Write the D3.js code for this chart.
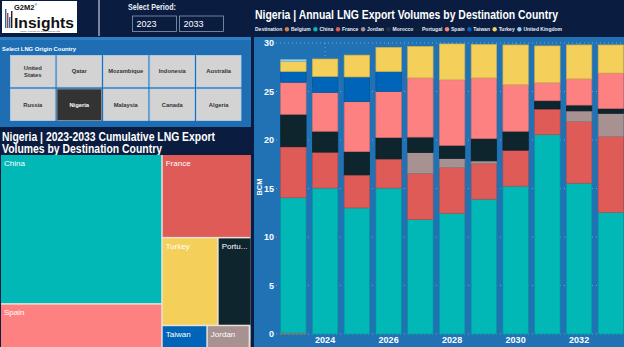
<!DOCTYPE html>
<html><head><meta charset="utf-8">
<script src="https://cdn.jsdelivr.net/npm/d3@7"></script>
<style>body{margin:0;background:#0b1d40;overflow:hidden}svg{display:block}</style>
</head><body><svg id="c" width="624" height="347"></svg>
<script>
// ---------- DATA ----------
const years = [2023,2024,2025,2026,2027,2028,2029,2030,2031,2032,2033];
const destinations = ["Belgium","China","France","Jordan","Morocco","Portugal","Spain","Taiwan","Turkey","United Kingdom"];
const belgium  = [0.1,0,0,0,0,0,0,0,0,0,0];
const china    = [13.95,15.05,13.0,15.05,11.8,12.45,13.9,15.25,20.55,15.55,12.55];
const france   = [5.25,3.7,3.4,3.0,4.75,4.7,3.65,3.7,2.65,6.35,7.8];
const jordan   = [0,0,0,0,2.15,0.95,0.3,0,0,1.1,2.4];
const morocco  = [0,0,0,0,0,0,0,0,0,0,0];
const portugal = [3.35,2.15,2.4,2.2,1.6,1.35,2.3,1.95,0.85,0.6,0.5];
const spain    = [3.3,4.0,5.15,4.75,6.1,6.75,6.25,4.8,1.85,2.7,3.65];
const taiwan   = [1.1,1.65,2.55,2.05,0,0,0,0,0,0,0];
const turkey   = [1.05,1.8,2.25,2.5,3.25,3.7,3.45,4.1,3.8,3.5,2.9];
const uk       = [0.2,0,0,0,0,0,0,0,0,0,0];
const yTicks = [0,5,10,15,20,25,30];
const xTickYears = [2024,2026,2028,2030,2032];
const originRow1 = ["United States","Qatar","Mozambique","Indonesia","Australia"];
const originRow2 = ["Russia","Nigeria","Malaysia","Canada","Algeria"];
const selectedOrigin = "Nigeria";
const periodStart = "2023", periodEnd = "2033";

const seriesValues = [belgium,china,france,jordan,morocco,portugal,spain,taiwan,turkey,uk];
const colors = {"Belgium":"#d9804f","China":"#01b8b6","France":"#de5b57","Jordan":"#a89191","Morocco":"#2a2f3a",
  "Portugal":"#0e252d","Spain":"#fe8181","Taiwan":"#0064b8","Turkey":"#f4d05b","United Kingdom":"#8fd2ea"};

const NAVY="#0a1d41", BLUE="#2171b5", FONT="'Liberation Sans', Arial, sans-serif";
const svg = d3.select("#c").style("font-family",FONT);

// ---------- BACKGROUND PANELS ----------
svg.append("rect").attr("width",624).attr("height",347).attr("fill",NAVY);
svg.append("rect").attr("x",0).attr("y",37).attr("width",251).attr("height",90).attr("fill","#1f6db2");
svg.append("rect").attr("x",0).attr("y",37).attr("width",251).attr("height",3).attr("fill","#2c80c4");
svg.append("rect").attr("x",254).attr("y",37).attr("width",370).attr("height",310).attr("fill",BLUE);
svg.append("line").attr("x1",99).attr("x2",99).attr("y1",0).attr("y2",36).attr("stroke","#e8eef5").attr("stroke-width",1);

// ---------- LOGO ----------
const logo = svg.append("g");
logo.append("rect").attr("x",2).attr("y",1).attr("width",75).attr("height",32).attr("fill","#fff");
[[5,19,"#1f6db2"],[7,15,"#c0392b"],[9,11,"#1f6db2"],[11,17,"#222"]].forEach(([x,h,c])=>{
  logo.append("rect").attr("x",x).attr("y",28-h).attr("width",1.4).attr("height",h).attr("fill",c);});
logo.append("text").attr("x",14).attr("y",9.5).attr("font-size",7.5).attr("font-weight","bold").attr("fill","#111").text("G2M2");
logo.append("text").attr("x",34.5).attr("y",5.5).attr("font-size",3.5).attr("fill","#111").text("®");
logo.append("text").attr("x",14).attr("y",27.5).attr("font-size",15.5).attr("font-weight","bold").attr("fill","#111")
  .attr("textLength",60).attr("lengthAdjust","spacingAndGlyphs").text("Insights");
logo.append("text").attr("x",40).attr("y",31.8).attr("font-size",2.4).attr("text-anchor","middle").attr("fill","#333").text("Visual Analytics for Global Gas & LNG");

// ---------- PERIOD ----------
svg.append("text").attr("x",128).attr("y",10).attr("font-size",8.5).attr("font-weight","bold").attr("fill","#e9eef6")
  .attr("textLength",48).attr("lengthAdjust","spacingAndGlyphs").text("Select Period:");
[[132.5,periodStart],[179.5,periodEnd]].forEach(([x,t])=>{
  svg.append("rect").attr("x",x).attr("y",16).attr("width",44).attr("height",15.5).attr("fill",NAVY).attr("stroke","#8a9bb3").attr("stroke-width",0.8);
  svg.append("text").attr("x",x+4).attr("y",27).attr("font-size",9).attr("fill","#fff").text(t);
});

// ---------- ORIGIN BUTTONS ----------
svg.append("text").attr("x",2).attr("y",51).attr("font-size",5.5).attr("font-weight","bold").attr("fill","#fff")
  .attr("textLength",74).attr("lengthAdjust","spacingAndGlyphs").text("Select LNG Origin Country");
const colX = d3.scaleBand().domain(d3.range(5)).range([10.5,241]).paddingInner(0.04);
const rowY = d3.scaleBand().domain([0,1]).range([55.5,120.5]).paddingInner(0.06);
[originRow1,originRow2].forEach((row,ri)=>row.forEach((name,ci)=>{
  const sel = name===selectedOrigin;
  const x=colX(ci), y=rowY(ri), w=colX.bandwidth(), h=rowY.bandwidth();
  svg.append("rect").attr("x",x).attr("y",y).attr("width",w).attr("height",h)
    .attr("fill",sel?"#333":"#d3d3d3").attr("stroke",sel?"#9a9a9a":"#b9d2ea").attr("stroke-width",0.8);
  const words = name==="United States"?["United","States"]:[name];
  words.forEach((wd,i)=>{
    svg.append("text").attr("x",x+w/2).attr("y",y+h/2+2+(i-(words.length-1)/2)*7)
      .attr("text-anchor","middle").attr("font-size",5.8).attr("font-weight","bold")
      .attr("fill",sel?"#fff":"#333").text(wd);
  });
}));

// ---------- TREEMAP ----------
svg.append("text").attr("x",2).attr("y",140.5).attr("font-size",12).attr("font-weight","bold").attr("fill","#fff")
  .attr("textLength",213).attr("lengthAdjust","spacingAndGlyphs").text("Nigeria | 2023-2033 Cumulative LNG Export");
svg.append("text").attr("x",2).attr("y",153).attr("font-size",12).attr("font-weight","bold").attr("fill","#fff")
  .attr("textLength",160).attr("lengthAdjust","spacingAndGlyphs").text("Volumes by Destination Country");

const totals = destinations.map((d,i)=>({name:d,value:d3.sum(seriesValues[i])})).filter(d=>d.value>0);
const root = d3.hierarchy({children:totals}).sum(d=>d.value||0).sort((a,b)=>b.value-a.value);
d3.treemap().tile(d3.treemapSquarify).size([249.5,194.5]).paddingInner(1.5)(root);
const tm = svg.append("g").attr("transform","translate(1,155)");
tm.append("rect").attr("width",249.5).attr("height",194.5).attr("fill","#e9e3da");
const cells = tm.selectAll("g.cell").data(root.leaves()).join("g").attr("class","cell");
cells.append("rect").attr("x",d=>d.x0).attr("y",d=>d.y0).attr("width",d=>d.x1-d.x0).attr("height",d=>d.y1-d.y0)
  .attr("fill",d=>colors[d.data.name]);
cells.each(function(d){
  const w=d.x1-d.x0, h=d.y1-d.y0;
  if (w<12||h<10) return;
  const t=d3.select(this).append("text").attr("x",d.x0+3).attr("y",d.y0+10.5).attr("font-size",8).attr("fill","#fff").text(d.data.name);
  let s=d.data.name;
  while (t.node().getComputedTextLength()>w-4 && s.length>1){ s=s.slice(0,-1); t.text(s+"..."); }
});

// ---------- BAR CHART ----------
svg.append("text").attr("x",255).attr("y",19).attr("font-size",12.5).attr("font-weight","bold").attr("fill","#fff")
  .attr("textLength",303).attr("lengthAdjust","spacingAndGlyphs").text("Nigeria | Annual LNG Export Volumes by Destination Country");

// legend (fit to the reference span 255..562)
const lg = svg.append("g").attr("font-size",5).attr("font-weight","bold").attr("fill","#e6ecf4");
const legendLeft=255, legendRight=562;
const t0=lg.append("text").attr("x",legendLeft).attr("y",31).text("Destination");
const items = destinations.map(d=>({d, t: lg.append("text").attr("y",31).text(d)}));
const textSum = t0.node().getComputedTextLength()+d3.sum(items,o=>o.t.node().getComputedTextLength());
const gap = (legendRight-legendLeft-textSum-items.length*6)/items.length;
let lx = legendLeft + t0.node().getComputedTextLength() + gap;
items.forEach(o=>{
  lg.append("circle").attr("cx",lx+2).attr("cy",29.3).attr("r",2.2).attr("fill",colors[o.d]);
  o.t.attr("x",lx+6);
  lx += 6+o.t.node().getComputedTextLength()+gap;
});

const x = d3.scaleBand().domain(years).range([277.5,626.75]).paddingInner(0.2).paddingOuter(0.1);
const y = d3.scaleLinear().domain([0,30]).range([334,43]);

const grid = svg.append("g").attr("stroke","#9cc3e6").attr("stroke-width",0.8).attr("stroke-dasharray","1,3").attr("opacity",0.8);
yTicks.forEach(v=>grid.append("line").attr("x1",276).attr("x2",624).attr("y1",y(v)).attr("y2",y(v)));
xTickYears.forEach(v=>grid.append("line").attr("x1",x(v)+x.bandwidth()/2).attr("x2",x(v)+x.bandwidth()/2).attr("y1",y(30)).attr("y2",y(0)));

const table = years.map((yr,i)=>{const o={year:yr}; destinations.forEach((d,j)=>o[d]=seriesValues[j][i]); return o;});
const stacked = d3.stack().keys(destinations)(table);
const bars = svg.append("g");
stacked.forEach(layer=>{
  bars.append("g").selectAll("rect").data(layer.filter(d=>d[1]-d[0]>0)).join("rect")
    .attr("x",d=>x(d.data.year)).attr("width",x.bandwidth())
    .attr("y",d=>y(d[1])).attr("height",d=>y(d[0])-y(d[1]))
    .attr("fill",colors[layer.key])
    .attr("stroke",d3.color(colors[layer.key]).darker(0.5)).attr("stroke-width",0.7);
});

// axes
const yAxis = svg.append("g").attr("transform","translate(275,0)")
  .call(d3.axisLeft(y).tickValues(yTicks).tickSize(0).tickPadding(1));
yAxis.select(".domain").remove();
yAxis.selectAll("text").attr("fill","#fff").attr("font-size",9).attr("font-weight","bold").attr("font-family",FONT);
const xAxis = svg.append("g").attr("transform","translate(0,334)")
  .call(d3.axisBottom(x).tickValues(xTickYears).tickSize(0).tickPadding(3));
xAxis.select(".domain").remove();
xAxis.selectAll("text").attr("fill","#fff").attr("font-size",9).attr("font-weight","bold").attr("font-family",FONT);
svg.append("text").attr("transform","translate(262,187) rotate(-90)").attr("text-anchor","middle")
  .attr("font-size",7.5).attr("font-weight","bold").attr("fill","#fff").text("BCM");
</script></body></html>
